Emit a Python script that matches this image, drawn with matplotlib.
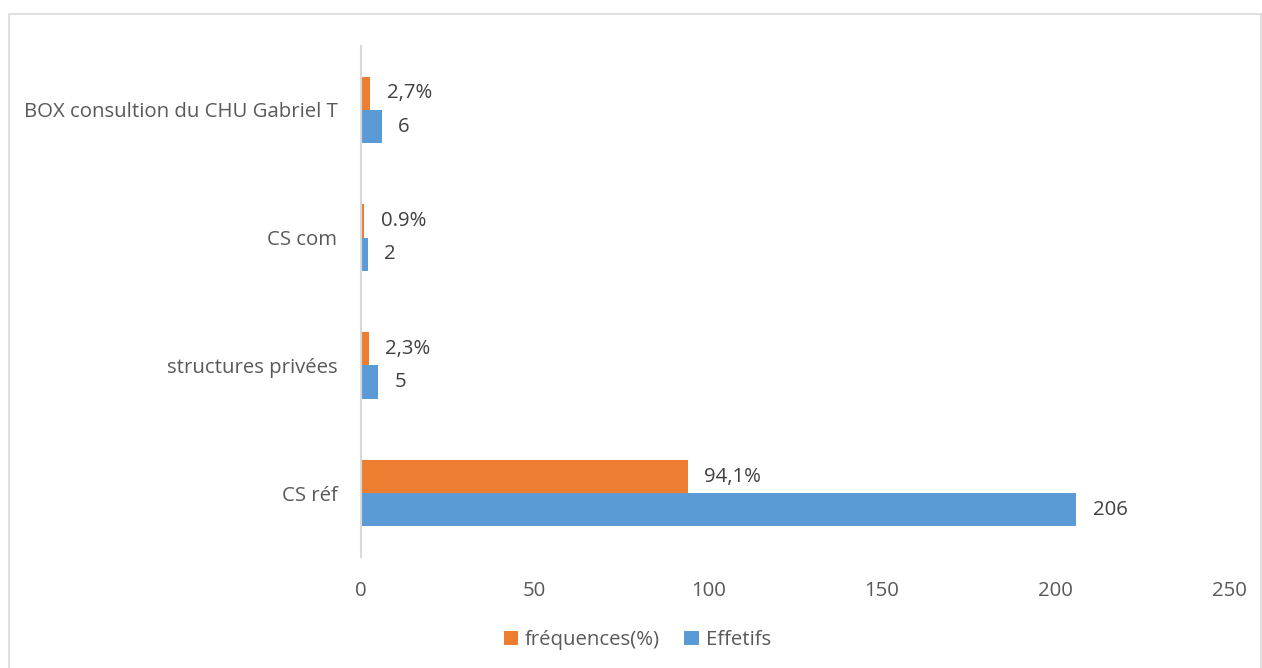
import matplotlib
matplotlib.use("Agg")
import matplotlib.pyplot as plt
from matplotlib.patches import Rectangle
import numpy as np

categories = ["CS réf", "structures privées", "CS com", "BOX consultion du CHU Gabriel T"]
effectifs = [206, 5, 2, 6]
frequences = [94.1, 2.3, 0.9, 2.7]
freq_labels = ["94,1%", "2,3%", "0.9%", "2,7%"]
eff_labels = ["206", "5", "2", "6"]
xticks = [0, 50, 100, 150, 200, 250]

plt.rcParams['font.family'] = ['Open Sans', 'DejaVu Sans']
FS = 14.7

fig = plt.figure(figsize=(12.62, 6.68), dpi=100)
ax = fig.add_axes([0.2861, 0.1662, 0.6878, 0.7649])

# outer border
fig.patches.append(Rectangle((9/1262, -0.01), (1261-9)/1262, 1 - 14/668 + 0.01,
                             transform=fig.transFigure, fill=False,
                             edgecolor="#d9d9d9", linewidth=1.2))

y = np.arange(len(categories))
h = 0.26
orange = "#ED7D31"
blue = "#5B9BD5"
b1 = ax.barh(y + h/2, frequences, height=h, color=orange, label="fréquences(%)")
b2 = ax.barh(y - h/2, effectifs, height=h, color=blue, label="Effetifs")

for yi, v, t in zip(y, frequences, freq_labels):
    ax.text(v + 4.7, yi + h/2, t, va="center", ha="left", fontsize=FS, color="#404040")
for yi, v, t in zip(y, effectifs, eff_labels):
    ax.text(v + 4.7, yi - h/2, t, va="center", ha="left", fontsize=FS, color="#404040")

ax.set_xlim(0, 250)
ax.set_ylim(-0.5, len(categories) - 0.5)
ax.set_xticks(xticks)
ax.set_yticks(y)
ax.set_yticklabels(categories)
ax.tick_params(axis="both", length=0, labelsize=FS, labelcolor="#595959")
ax.tick_params(axis="x", pad=17)
ax.tick_params(axis="y", pad=17)
for s in ["top", "right", "bottom"]:
    ax.spines[s].set_visible(False)
ax.spines["left"].set_color("#d9d9d9")
ax.spines["left"].set_linewidth(1.5)

handles = [b1, b2]
leg = fig.legend(handles, ["fréquences(%)", "Effetifs"], loc="center",
                 bbox_to_anchor=(0.505, 1 - 640/668), ncol=2, frameon=False,
                 fontsize=FS, handlelength=0.7, handleheight=0.7,
                 columnspacing=1.2, handletextpad=0.35)
for t in leg.get_texts():
    t.set_color("#595959")

fig.savefig("out.png", dpi=100)
